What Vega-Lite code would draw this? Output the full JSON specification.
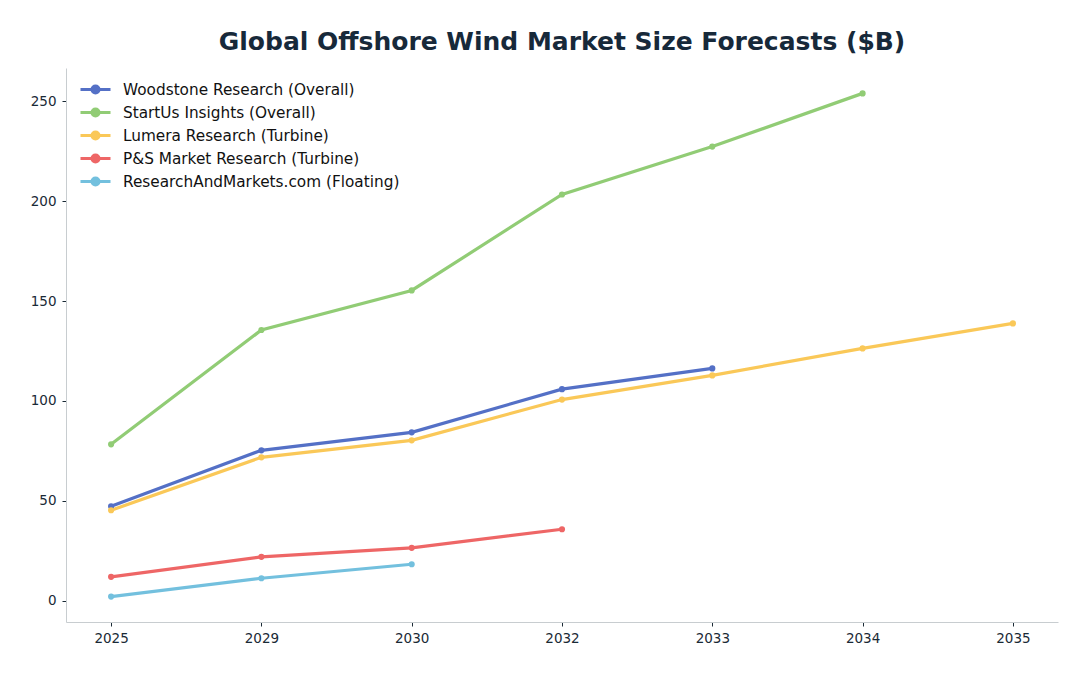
{
  "$schema": "https://vega.github.io/schema/vega-lite/v6.json",
  "autosize": "none",
  "width": 992,
  "height": 554,
  "padding": {"left": 66, "top": 68, "right": 30, "bottom": 54},
  "background": "white",
  "title": {
    "text": "Global Offshore Wind Market Size Forecasts ($B)",
    "font": "DejaVu Sans",
    "fontSize": 25,
    "fontWeight": "bold",
    "color": "#17293a",
    "anchor": "middle",
    "offset": 13
  },
  "data": {
    "values": [
      {"source": "Woodstone Research (Overall)", "year": "2025", "value": 47.3},
      {"source": "Woodstone Research (Overall)", "year": "2029", "value": 75.3},
      {"source": "Woodstone Research (Overall)", "year": "2030", "value": 84.3},
      {"source": "Woodstone Research (Overall)", "year": "2032", "value": 105.9},
      {"source": "Woodstone Research (Overall)", "year": "2033", "value": 116.3},
      {"source": "StartUs Insights (Overall)", "year": "2025", "value": 78.3},
      {"source": "StartUs Insights (Overall)", "year": "2029", "value": 135.5},
      {"source": "StartUs Insights (Overall)", "year": "2030", "value": 155.3},
      {"source": "StartUs Insights (Overall)", "year": "2032", "value": 203.3},
      {"source": "StartUs Insights (Overall)", "year": "2033", "value": 227.3},
      {"source": "StartUs Insights (Overall)", "year": "2034", "value": 253.9},
      {"source": "Lumera Research (Turbine)", "year": "2025", "value": 45.3},
      {"source": "Lumera Research (Turbine)", "year": "2029", "value": 71.8},
      {"source": "Lumera Research (Turbine)", "year": "2030", "value": 80.3},
      {"source": "Lumera Research (Turbine)", "year": "2032", "value": 100.7},
      {"source": "Lumera Research (Turbine)", "year": "2033", "value": 112.8},
      {"source": "Lumera Research (Turbine)", "year": "2034", "value": 126.3},
      {"source": "Lumera Research (Turbine)", "year": "2035", "value": 138.8},
      {"source": "P&S Market Research (Turbine)", "year": "2025", "value": 12.0},
      {"source": "P&S Market Research (Turbine)", "year": "2029", "value": 22.0},
      {"source": "P&S Market Research (Turbine)", "year": "2030", "value": 26.5},
      {"source": "P&S Market Research (Turbine)", "year": "2032", "value": 35.8},
      {"source": "ResearchAndMarkets.com (Floating)", "year": "2025", "value": 2.1},
      {"source": "ResearchAndMarkets.com (Floating)", "year": "2029", "value": 11.3},
      {"source": "ResearchAndMarkets.com (Floating)", "year": "2030", "value": 18.3}
    ]
  },
  "mark": {
    "type": "line",
    "strokeWidth": 3.2,
    "point": {"filled": true, "size": 38}
  },
  "encoding": {
    "x": {
      "field": "year",
      "type": "ordinal",
      "sort": ["2025", "2029", "2030", "2032", "2033", "2034", "2035"],
      "scale": {"type": "point", "padding": 0.3},
      "axis": {
        "title": null,
        "labelAngle": 0,
        "labelFont": "DejaVu Sans",
        "labelFontSize": 13.5,
        "labelColor": "#1a2a36",
        "labelPadding": 5,
        "tickSize": 4,
        "tickColor": "#1a2a36",
        "domainColor": "#c8cdd0",
        "grid": false
      }
    },
    "y": {
      "field": "value",
      "type": "quantitative",
      "scale": {"domain": [-10.6, 266.6], "nice": false, "zero": false},
      "axis": {
        "title": null,
        "values": [0, 50, 100, 150, 200, 250],
        "labelFont": "DejaVu Sans",
        "labelFontSize": 13.5,
        "labelColor": "#1a2a36",
        "labelPadding": 6,
        "tickSize": 4,
        "tickColor": "#1a2a36",
        "domainColor": "#c8cdd0",
        "grid": false
      }
    },
    "color": {
      "field": "source",
      "type": "nominal",
      "sort": null,
      "scale": {
        "domain": [
          "Woodstone Research (Overall)",
          "StartUs Insights (Overall)",
          "Lumera Research (Turbine)",
          "P&S Market Research (Turbine)",
          "ResearchAndMarkets.com (Floating)"
        ],
        "range": ["#5470c6", "#91cc75", "#fac858", "#ee6666", "#73c0de"]
      },
      "legend": {
        "title": null,
        "orient": "none",
        "legendX": 18,
        "legendY": 10,
        "labelFont": "DejaVu Sans",
        "labelFontSize": 15.3,
        "labelColor": "#111111",
        "labelLimit": 0,
        "labelOffset": 16,
        "rowPadding": 2,
        "symbolType": "M-1.5,0H1.5M-0.35,0A0.35,0.35,0,1,0,0.35,0A0.35,0.35,0,1,0,-0.35,0",
        "symbolSize": 400,
        "symbolStrokeWidth": 3
      }
    }
  },
  "config": {
    "view": {"stroke": null}
  }
}
